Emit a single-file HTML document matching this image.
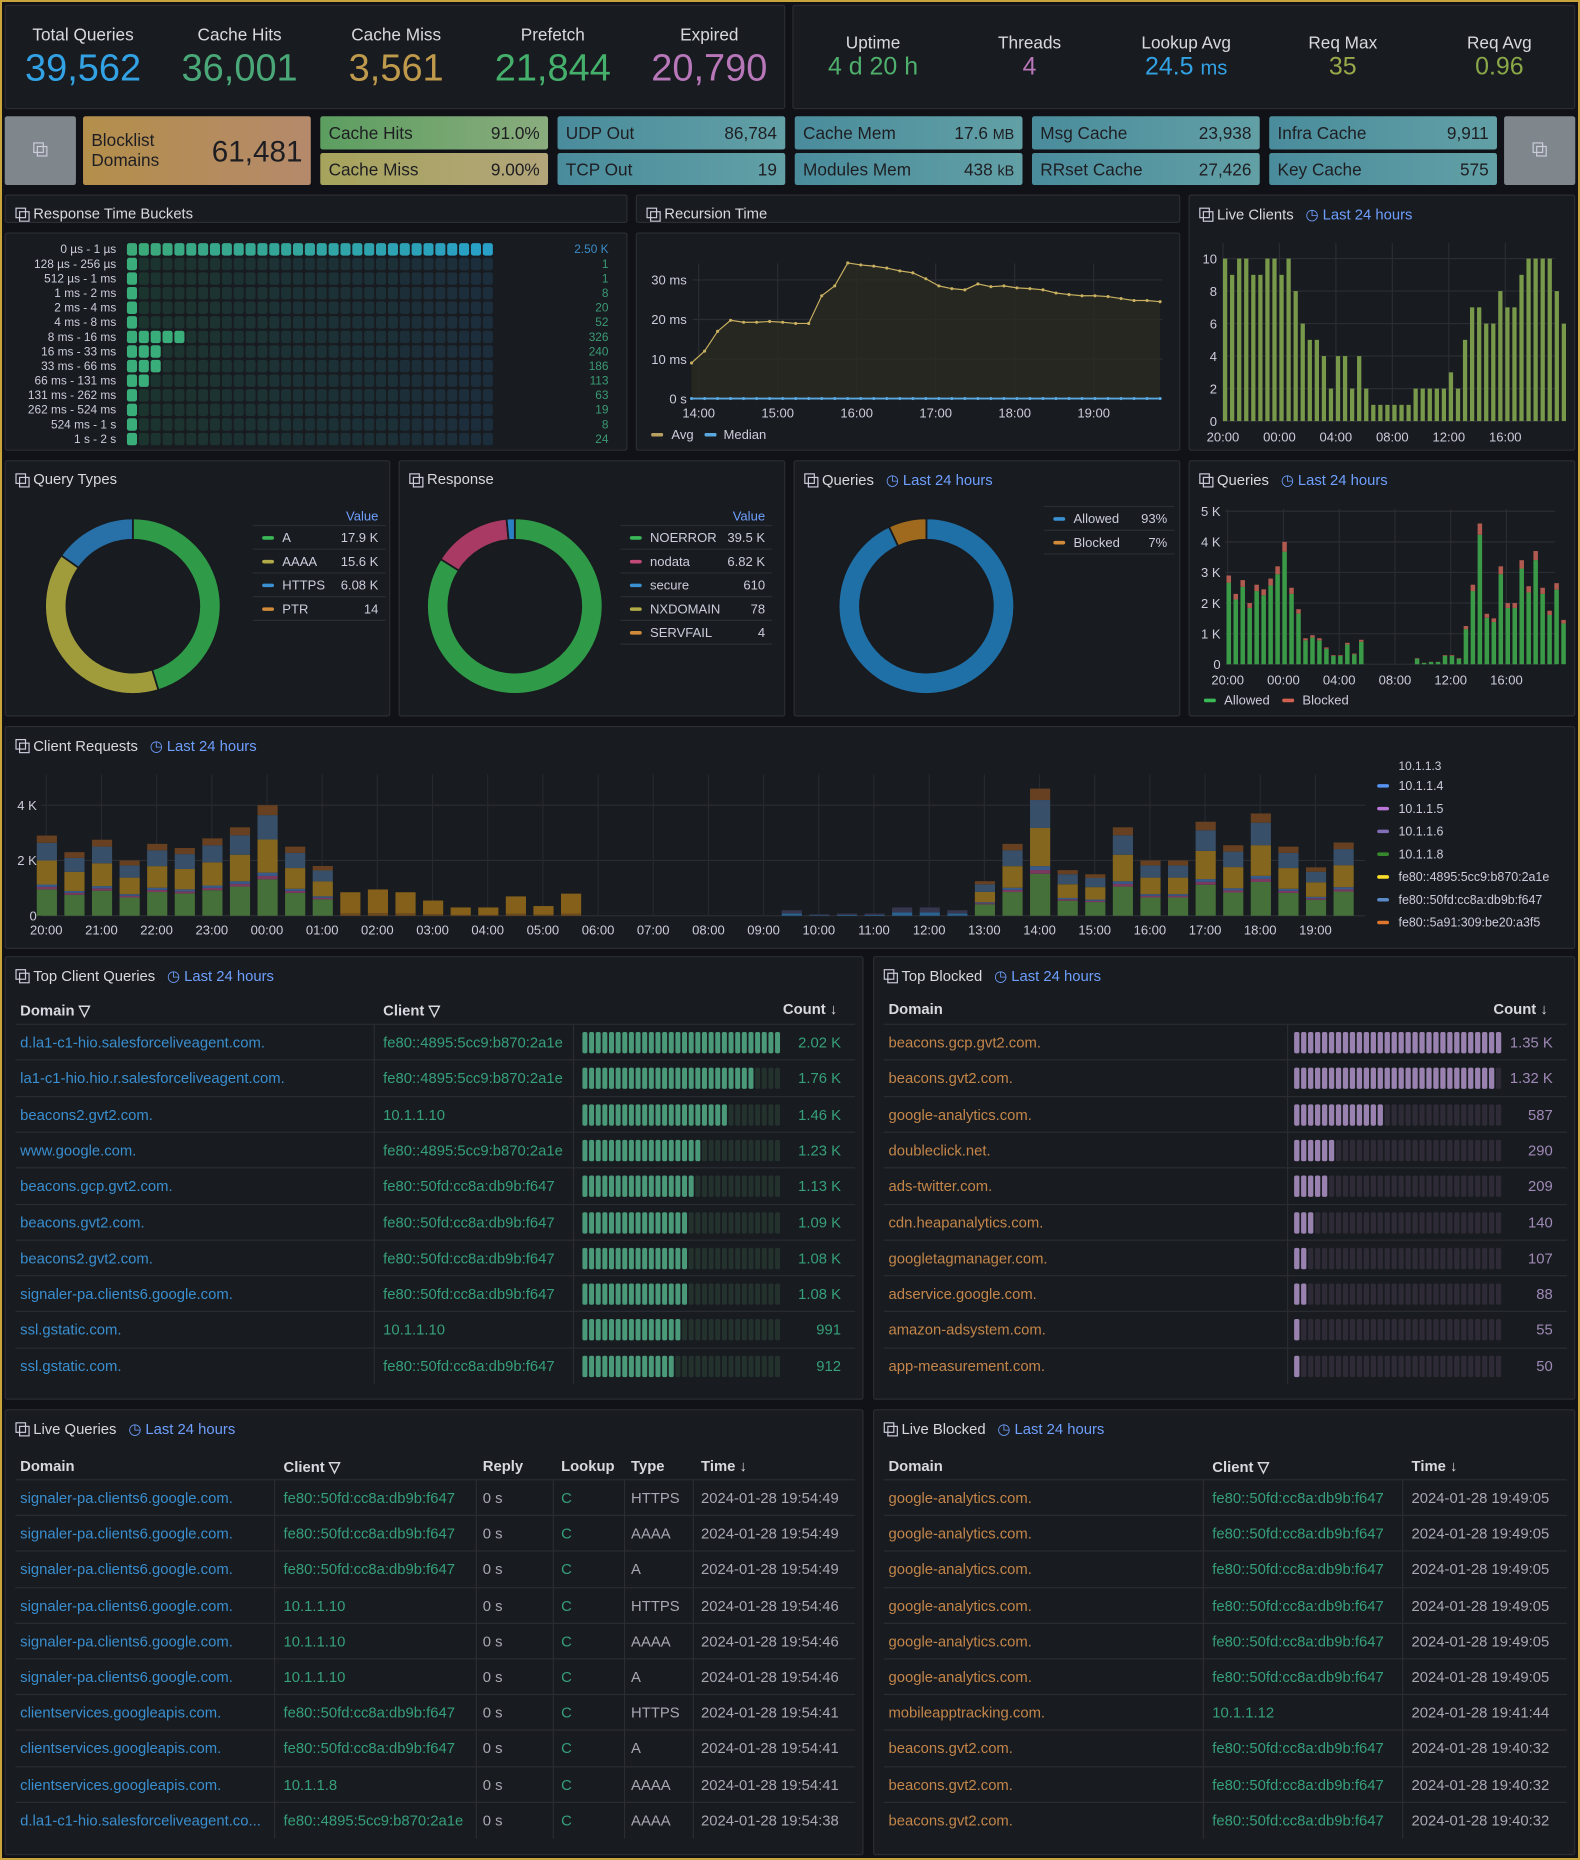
<!DOCTYPE html>
<html><head><meta charset="utf-8">
<style>
*{box-sizing:border-box;margin:0;padding:0}
html,body{width:1580px;height:1860px;overflow:hidden;background:#111217}
body{font-family:"Liberation Sans",sans-serif;color:#ccccdc}
#frame{position:absolute;left:0;top:0;width:1580px;height:1860px;border:2px solid #c9a43a;pointer-events:none;z-index:10}
#root{position:absolute;left:0;top:0;width:1332px;height:1568px;transform:scale(1.186186);transform-origin:0 0}
.p{position:absolute;background:#181b1f;border:1px solid #2a2d33;border-radius:2px;overflow:hidden}
.t{position:absolute;left:8px;top:8px;font-size:12.5px;color:#d8d9e0;white-space:nowrap;display:flex;align-items:center}
.t .ic{display:inline-block;width:11px;height:11px;position:relative;margin-right:4px}
.t .ic:before,.t .ic:after{content:"";position:absolute;width:7px;height:7px;border:1px solid #ccccdc}
.t .ic:before{left:0;top:0}.t .ic:after{left:3px;top:3px}
.t .tm{color:#6e9fff;margin-left:10px}
.a{position:absolute;white-space:nowrap}
svg{position:absolute;left:0;top:0;overflow:visible}
.stl{font-size:14.5px;color:#d8d9e0;text-align:center;width:130px}
.sv{text-align:center;width:130px}
.box{position:absolute;border-radius:2px;color:#1e1e22;font-size:14.5px}
.box .l{position:absolute;left:7px}
.box .r{position:absolute;right:7px}
.th{font-size:12.5px;color:#d8d9e0;font-weight:600}
.row{position:absolute;left:8px;height:30px;border-top:1px solid #2a2d33;font-size:12.5px}
.row div{position:absolute;top:8px;white-space:nowrap}
.vd{position:absolute;top:0;width:1px;height:30px;background:#2a2d33}
</style></head><body>
<div id="root"></div>
<div id="frame"></div>
<script>
const R=document.getElementById('root');let H='';
function panel(x,y,w,h,title,tm,inner){
  H+=`<div class="p" style="left:${x}px;top:${y}px;width:${w}px;height:${h}px">`+
  (title?`<div class="t"><span class="ic"></span>${title}${tm?'<span class="tm">&#9719; Last 24 hours</span>':''}</div>`:'')+(inner||'')+`</div>`;
}
let s='';
[['Total Queries','39,562','#33a2e5'],['Cache Hits','36,001','#4aa878'],['Cache Miss','3,561','#c09a4c'],['Prefetch','21,844','#44b06c'],['Expired','20,790','#b877b9']].forEach((d,i)=>{
 let cx=65+i*132;s+=`<div class="a stl" style="left:${cx-65}px;top:17px">${d[0]}</div><div class="a sv" style="left:${cx-65}px;top:34px;font-size:32px;color:${d[2]}">${d[1]}</div>`;});
panel(4,4,658,88,'',0,s);
s='';
[['Uptime','4 d 20 h','#4fb06e'],['Threads','4','#b877b9'],['Lookup Avg','24.5 <span style="font-size:17px">ms</span>','#33a2e5'],['Req Max','35','#98a84a'],['Req Avg','0.96','#8aa848']].forEach((d,i)=>{
 let cx=67+i*132;s+=`<div class="a stl" style="left:${cx-65}px;top:24px">${d[0]}</div><div class="a sv" style="left:${cx-65}px;top:40px;font-size:21px;color:${d[2]}">${d[1]}</div>`;});
panel(668,4,660,88,'',0,s);
function box(x,y,w,h,g,l,r){H+=`<div class="box" style="left:${x}px;top:${y}px;width:${w}px;height:${h}px;background:${g}"><div class="l" style="top:${h/2-7}px">${l}</div><div class="r" style="top:${h/2-7}px">${r}</div></div>`;}
H+=`<div class="box" style="left:4px;top:98px;width:60px;height:58px;background:#7f868c"><div class="t" style="left:24px;top:22px"><span class="ic"></span></div></div>`;
H+=`<div class="box" style="left:1268px;top:98px;width:60px;height:58px;background:#7f868c"><div class="t" style="left:24px;top:22px"><span class="ic"></span></div></div>`;
H+=`<div class="box" style="left:70px;top:98px;width:192px;height:58px;background:linear-gradient(90deg,#b48e4a,#b58a6c)"><div class="l" style="top:13px;line-height:17px">Blocklist<br>Domains</div><div class="r" style="top:16px;font-size:25px">61,481</div></div>`;
const gHit='linear-gradient(90deg,#5c9e60,#8aac7e)',gMiss='linear-gradient(90deg,#a6a45c,#b2a57a)',gT='linear-gradient(90deg,#4a8c9c,#62a0a6)';
box(270,98,192,28,gHit,'Cache Hits','91.0%');box(270,129,192,27,gMiss,'Cache Miss','9.00%');
box(470,98,192,28,gT,'UDP Out','86,784');box(470,129,192,27,gT,'TCP Out','19');
box(670,98,192,28,gT,'Cache Mem','17.6 <small>MB</small>');box(670,129,192,27,gT,'Modules Mem','438 <small>kB</small>');
box(870,98,192,28,gT,'Msg Cache','23,938');box(870,129,192,27,gT,'RRset Cache','27,426');
box(1070,98,192,28,gT,'Infra Cache','9,911');box(1070,129,192,27,gT,'Key Cache','575');
panel(4,164,525,24,'Response Time Buckets');
s='<svg width="525" height="186">';
const hl=['0 µs - 1 µs','128 µs - 256 µs','512 µs - 1 ms','1 ms - 2 ms','2 ms - 4 ms','4 ms - 8 ms','8 ms - 16 ms','16 ms - 33 ms','33 ms - 66 ms','66 ms - 131 ms','131 ms - 262 ms','262 ms - 524 ms','524 ms - 1 s','1 s - 2 s'];
const hv=['2.50 K','1','1','8','20','52','326','240','186','113','63','19','8','24'];
const hf=[31,1,1,1,1,1,5,3,3,2,1,1,1,1];
hl.forEach((l,r)=>{let y=8+r*12.3;s+=`<text x="93" y="${y+8.5}" font-size="10" fill="#ccccdc" text-anchor="end">${l}</text><text x="508" y="${y+8.5}" font-size="10" fill="${r?'#3a9a74':'#3a8cc8'}" text-anchor="end">${hv[r]}</text>`;
 for(let c=0;c<31;c++){let x=102+c*10;let t=c/30;let fill;
  if(c<hf[r]){fill=r==0?`rgb(${Math.round(60-20*t)},${Math.round(170-10*t)},${Math.round(120+80*t)})`:'#3aae7a';}
  else fill=`rgb(28,${Math.round(52-6*t)},${Math.round(46+14*t)})`;
  s+=`<rect x="${x}" y="${y}" width="8.5" height="10.5" rx="2" fill="${fill}"/>`;}});
s+='</svg>';
panel(4,196,525,184,'',0,s);
panel(536,164,459,24,'Recursion Time');
{let sv='<svg width="459" height="184">';const ox=-536,oy=-196;
 const y0=335,k=3.333;[[0,'0 s'],[10,'10 ms'],[20,'20 ms'],[30,'30 ms']].forEach(d=>{let y=y0-d[0]*k+oy;sv+=`<line x1="47" x2="443" y1="${y}" y2="${y}" stroke="#2a2d33"/><text x="42" y="${y+4}" font-size="11" fill="#ccccdc" text-anchor="end">${d[1]}</text>`;});
 for(let h=0;h<6;h++){let x=588+h*66.6+ox;sv+=`<line x1="${x}" x2="${x}" y1="25" y2="${y0+oy}" stroke="#2a2d33"/><text x="${x}" y="${y0+oy+16}" font-size="11" fill="#ccccdc" text-anchor="middle">${14+h}:00</text>`;}
 const v=[9,12,17,19.8,19.3,19.3,19.5,19.3,19,19,26,28.5,34.3,33.8,33.5,33,32.3,31.8,30.3,28.5,27.8,27.5,29,28.3,28.5,28,27.8,27.5,26.7,26.3,26,26,25.8,25.3,24.8,24.8,24.5];
 let pts=v.map((d,i)=>[582+ox+i*(395/36),y0+oy-d*k]);
 sv+=`<path d="M${pts[0][0]},${y0+oy} L${pts.map(p=>p.join(',')).join(' L')} L${pts[pts.length-1][0]},${y0+oy}Z" fill="#2a2a22" opacity="0.8"/>`;
 sv+=`<polyline points="${pts.map(p=>p.join(',')).join(' ')}" fill="none" stroke="#c8b060" stroke-width="1"/>`;
 pts.forEach(p=>{sv+=`<circle cx="${p[0]}" cy="${p[1]}" r="1.3" fill="#c8b060"/><circle cx="${p[0]}" cy="${y0+oy}" r="1.3" fill="#5aa8e0"/>`;});
 sv+=`<line x1="${pts[0][0]}" x2="${pts[36][0]}" y1="${y0+oy}" y2="${y0+oy}" stroke="#5aa8e0" stroke-width="1.5"/>`;
 sv+=`<rect x="12" y="168" width="10" height="3" rx="1" fill="#b8a060"/><text x="29" y="173" font-size="11" fill="#ccccdc">Avg</text><rect x="57" y="168" width="10" height="3" rx="1" fill="#5aa8e0"/><text x="73" y="173" font-size="11" fill="#ccccdc">Median</text></svg>`;
 panel(536,196,459,184,'',0,sv);}
{let sv='<svg width="326" height="216">';const ox=-1002,oy=-164,y0=354,k=13.7;
 for(let i=0;i<=10;i+=2){let y=y0-i*k+oy;sv+=`<line x1="28" x2="308" y1="${y}" y2="${y}" stroke="#2a2d33"/><text x="23" y="${y+4}" font-size="11" fill="#ccccdc" text-anchor="end">${i}</text>`;}
 for(let h=0;h<6;h++){let x=1030+h*47.6+ox;sv+=`<line x1="${x}" x2="${x}" y1="40" y2="${y0+oy}" stroke="#2a2d33"/><text x="${x}" y="${y0+oy+17}" font-size="11" fill="#ccccdc" text-anchor="middle">${['20:00','00:00','04:00','08:00','12:00','16:00'][h]}</text>`;}
 const v=[10,9,10,10,9,9,10,10,9,10,8,6,5,5,4,2,4,4,2,4,2,1,1,1,1,1,1,2,2,2,2,2,3,2,5,7,7,6,6,8,7,7,9,10,10,10,10,8,6];
 v.forEach((d,i)=>{let x=1030+ox+i*5.95;sv+=`<rect x="${x}" y="${y0+oy-d*k}" width="3.6" height="${d*k}" fill="#78984a"/>`;});
 sv+='</svg>';panel(1002,164,326,216,'Live Clients',1,sv);}
function arc(cx,cy,ro,ri,a0,a1,col){const P=(r,a)=>[cx+r*Math.sin(a),cy-r*Math.cos(a)];let A=a0*2*Math.PI,B=a1*2*Math.PI,lg=(B-A)>Math.PI?1:0;
 let p1=P(ro,A),p2=P(ro,B),p3=P(ri,B),p4=P(ri,A);
 return `<path d="M${p1} A${ro},${ro} 0 ${lg} 1 ${p2} L${p3} A${ri},${ri} 0 ${lg} 0 ${p4}Z" fill="${col}" stroke="#181b1f" stroke-width="1.5"/>`;}
function donut(cx,cy,seg){let a=0,o='';seg.forEach(g=>{o+=arc(cx,cy,74,56,a,a+g[0],g[1]);a+=g[0];});return o;}
function legend(x,y,w,rows,hdr){let o='';if(hdr)o+=`<text x="${x+w-6}" y="${y-4}" font-size="11" fill="#6e9fff" text-anchor="end">Value</text>`;
 o+=`<line x1="${x}" x2="${x+w}" y1="${y}" y2="${y}" stroke="#2a2d33"/>`;
 rows.forEach((r,i)=>{let yy=y+i*20;o+=`<rect x="${x+8}" y="${yy+9}" width="10" height="3" rx="1.5" fill="${r[2]}"/><text x="${x+25}" y="${yy+14}" font-size="11" fill="#ccccdc">${r[0]}</text><text x="${x+w-6}" y="${yy+14}" font-size="11" fill="#ccccdc" text-anchor="end">${r[1]}</text><line x1="${x}" x2="${x+w}" y1="${yy+20}" y2="${yy+20}" stroke="#2a2d33"/>`;});return o;}
panel(4,388,325,216,'Query Types',0,`<svg width="325" height="216">${donut(107,122,[[0.453,'#2f9a48'],[0.395,'#a09c3c'],[0.152,'#2870a8']])}${legend(208,54,112,[['A','17.9 K','#3ab858'],['AAAA','15.6 K','#b0aa48'],['HTTPS','6.08 K','#3a90d0'],['PTR','14','#d08a3a']],1)}</svg>`);
panel(336,388,326,216,'Response',0,`<svg width="326" height="216">${donut(97,122,[[0.84,'#2f9a48'],[0.145,'#a83a64'],[0.015,'#2a80c0']])}${legend(186,54,128,[['NOERROR','39.5 K','#3ab858'],['nodata','6.82 K','#c04a78'],['secure','610','#3a90d0'],['NXDOMAIN','78','#b0aa48'],['SERVFAIL','4','#d08a3a']],1)}</svg>`);
panel(669,388,326,216,'Queries',1,`<svg width="326" height="216">${donut(111,122,[[0.93,'#2070a8'],[0.07,'#a06a1e']])}${legend(210,38,110,[['Allowed','93%','#3a90d0'],['Blocked','7%','#d08a3a']],0)}</svg>`);
const CR=[2.9,2.3,2.75,2.0,2.6,2.45,2.8,3.2,4.0,2.5,1.8,.85,.95,.85,.55,.3,.3,.7,.35,.8,0,0,0,0,0,0,0,.2,.05,.08,.08,.3,.3,.2,1.25,2.6,4.6,1.65,1.5,3.2,2.0,2.0,3.4,2.55,3.7,2.5,1.75,2.65,1.45];
{let sv='<svg width="326" height="216">';const ox=-1002,oy=-388,y0=559,k=25.8;
 for(let i=0;i<=5;i++){let y=y0-i*k+oy;sv+=`<line x1="30" x2="308" y1="${y}" y2="${y}" stroke="#2a2d33"/><text x="26" y="${y+4}" font-size="11" fill="#ccccdc" text-anchor="end">${i?i+' K':'0'}</text>`;}
 for(let h=0;h<6;h++){let x=1034+h*47+ox;sv+=`<line x1="${x}" x2="${x}" y1="40" y2="${y0+oy}" stroke="#2a2d33"/><text x="${x}" y="${y0+oy+17}" font-size="11" fill="#ccccdc" text-anchor="middle">${['20:00','00:00','04:00','08:00','12:00','16:00'][h]}</text>`;}
 CR.forEach((d,i)=>{let x=1034+ox+i*5.88-1;let b=d*0.08*k,a=d*0.92*k;sv+=`<rect x="${x}" y="${y0+oy-a}" width="3.8" height="${a}" fill="#3a9a48"/><rect x="${x}" y="${y0+oy-a-b}" width="3.8" height="${b}" fill="#b05a50"/>`;});
 sv+=`<rect x="12" y="200" width="10" height="3" rx="1" fill="#3ab858"/><text x="29" y="205" font-size="11" fill="#ccccdc">Allowed</text><rect x="78" y="200" width="10" height="3" rx="1" fill="#d06050"/><text x="95" y="205" font-size="11" fill="#ccccdc">Blocked</text></svg>`;
 panel(1002,388,326,216,'Queries',1,sv);}
{let sv='<svg width="1324" height="188">';const ox=-4,oy=-612,y0=771,k=23.3;
 [0,2,4].forEach(i=>{let y=y0-i*k+oy;sv+=`<line x1="30" x2="1146" y1="${y}" y2="${y}" stroke="#2a2d33"/><text x="26" y="${y+4}" font-size="11" fill="#ccccdc" text-anchor="end">${i?i+' K':'0'}</text>`;});
 for(let h=0;h<24;h++){let x=38+h*46.52+ox;let lab=String((20+h)%24).padStart(2,'0')+':00';sv+=`<line x1="${x}" x2="${x}" y1="40" y2="${y0+oy}" stroke="#262930"/><text x="${x}" y="${y0+oy+16}" font-size="11" fill="#ccccdc" text-anchor="middle">${lab}</text>`;}
 CR.forEach((d,i)=>{let x=38+ox+i*23.26-8;if(x>1140)return;let seg;
  if(i>=11&&i<=19)seg=[[0.1,'#6e4a1e'],[0.9,'#84601a']];
  else if(i>=27&&i<=33)seg=[[0.4,'#2a6290'],[0.6,'#36364f']];
  else seg=[[0.33,'#46703a'],[0.03,'#7a3a60'],[0.03,'#3a5a8a'],[0.3,'#84661e'],[0.22,'#384f6a'],[0.09,'#664020']];
  let y=y0+oy;seg.forEach(g=>{let hh=d*k*g[0];y-=hh;sv+=`<rect x="${x}" y="${y}" width="17" height="${hh}" fill="${g[1]}"/>`;});});
 sv+=`<text x="1174" y="36" font-size="10" fill="#ccccdc">10.1.1.3</text>`;
 [['10.1.1.4','#5794f2'],['10.1.1.5','#b877d9'],['10.1.1.6','#806eb7'],['10.1.1.8','#37872d'],['fe80::4895:5cc9:b870:2a1e','#fade2a'],['fe80::50fd:cc8a:db9b:f647','#5a8ac8'],['fe80::5a91:309:be20:a3f5','#e0752d']].forEach((l,i)=>{let y=51+i*19.2;sv+=`<rect x="1156" y="${y-3}" width="10" height="3" rx="1.5" fill="${l[1]}"/><text x="1174" y="${y+2}" font-size="10.5" fill="#ccccdc">${l[0]}</text>`;});
 sv+='</svg>';panel(4,612,1324,188,'Client Requests',1,sv);}
function gauge(x,w,f,on,off){let o=`<svg style="left:${x}px;top:6px" width="${w}" height="18">`;const n=30,p=w/n;for(let i=0;i<n;i++){o+=`<rect x="${i*p}" y="0" width="${p-1.4}" height="18" rx="1.5" fill="${(i+0.5)/n<f?on:off}"/>`;}return o+'</svg>';}
{const d=[['d.la1-c1-hio.salesforceliveagent.com.','fe80::4895:5cc9:b870:2a1e','2.02 K',2020],['la1-c1-hio.hio.r.salesforceliveagent.com.','fe80::4895:5cc9:b870:2a1e','1.76 K',1760],['beacons2.gvt2.com.','10.1.1.10','1.46 K',1460],['www.google.com.','fe80::4895:5cc9:b870:2a1e','1.23 K',1230],['beacons.gcp.gvt2.com.','fe80::50fd:cc8a:db9b:f647','1.13 K',1130],['beacons.gvt2.com.','fe80::50fd:cc8a:db9b:f647','1.09 K',1090],['beacons2.gvt2.com.','fe80::50fd:cc8a:db9b:f647','1.08 K',1080],['signaler-pa.clients6.google.com.','fe80::50fd:cc8a:db9b:f647','1.08 K',1080],['ssl.gstatic.com.','10.1.1.10','991',991],['ssl.gstatic.com.','fe80::50fd:cc8a:db9b:f647','912',912]];
 let s=`<div class="a th" style="left:12px;top:37px">Domain &#9661;</div><div class="a th" style="left:318px;top:37px">Client &#9661;</div><div class="a th" style="left:655px;top:37px">Count &#8595;</div>`;
 d.forEach((r,i)=>{s+=`<div class="row" style="top:${56+i*30.3}px;width:708px"><div style="left:4px;color:#3a8fd0">${r[0]}</div><span class="vd" style="left:302px"></span><div style="left:310px;color:#36a07a">${r[1]}</div><span class="vd" style="left:470px"></span>${gauge(478,168,r[3]/2020,'#4a9a7a','#24322e')}<div style="right:12px;color:#36a07a">${r[2]}</div></div>`;});
 panel(4,806,724,374,'Top Client Queries',1,s);}
{const d=[['beacons.gcp.gvt2.com.','1.35 K',1350],['beacons.gvt2.com.','1.32 K',1320],['google-analytics.com.','587',587],['doubleclick.net.','290',290],['ads-twitter.com.','209',209],['cdn.heapanalytics.com.','140',140],['googletagmanager.com.','107',107],['adservice.google.com.','88',88],['amazon-adsystem.com.','55',55],['app-measurement.com.','50',50]];
 let s=`<div class="a th" style="left:12px;top:37px">Domain</div><div class="a th" style="left:522px;top:37px">Count &#8595;</div>`;
 d.forEach((r,i)=>{s+=`<div class="row" style="top:${56+i*30.3}px;width:576px"><div style="left:4px;color:#c4864a">${r[0]}</div><span class="vd" style="left:340px"></span>${gauge(346,176,Math.max(r[2]/1350,0.02),'#9a82b0','#2e2a36')}<div style="right:12px;color:#a08ab8">${r[1]}</div></div>`;});
 panel(736,806,592,374,'Top Blocked',1,s);}
{const A='signaler-pa.clients6.google.com.',C='clientservices.googleapis.com.',F='fe80::50fd:cc8a:db9b:f647';
 const d=[[A,F,'HTTPS','2024-01-28 19:54:49'],[A,F,'AAAA','2024-01-28 19:54:49'],[A,F,'A','2024-01-28 19:54:49'],[A,'10.1.1.10','HTTPS','2024-01-28 19:54:46'],[A,'10.1.1.10','AAAA','2024-01-28 19:54:46'],[A,'10.1.1.10','A','2024-01-28 19:54:46'],[C,F,'HTTPS','2024-01-28 19:54:41'],[C,F,'A','2024-01-28 19:54:41'],[C,'10.1.1.8','AAAA','2024-01-28 19:54:41'],['d.la1-c1-hio.salesforceliveagent.co...','fe80::4895:5cc9:b870:2a1e','AAAA','2024-01-28 19:54:38']];
 let s=`<div class="a th" style="left:12px;top:40px">Domain</div><div class="a th" style="left:234px;top:40px">Client &#9661;</div><div class="a th" style="left:402px;top:40px">Reply</div><div class="a th" style="left:468px;top:40px">Lookup</div><div class="a th" style="left:527px;top:40px">Type</div><div class="a th" style="left:586px;top:40px">Time &#8595;</div>`;
 d.forEach((r,i)=>{s+=`<div class="row" style="top:${58+i*30.2}px;width:708px"><div style="left:4px;color:#3a8fd0">${r[0]}</div><span class="vd" style="left:218px"></span><div style="left:226px;color:#36a07a">${r[1]}</div><span class="vd" style="left:388px"></span><div style="left:394px;color:#a8a8b4">0 s</div><span class="vd" style="left:453px"></span><div style="left:460px;color:#36a07a">C</div><span class="vd" style="left:513px"></span><div style="left:519px;color:#a8a8b4">${r[2]}</div><span class="vd" style="left:571px"></span><div style="left:578px;color:#a8a8b4">${r[3]}</div></div>`;});
 panel(4,1188,724,376,'Live Queries',1,s);}
{const G='google-analytics.com.',F='fe80::50fd:cc8a:db9b:f647',T='2024-01-28 19:49:05';
 const d=[[G,F,T],[G,F,T],[G,F,T],[G,F,T],[G,F,T],[G,F,T],['mobileapptracking.com.','10.1.1.12','2024-01-28 19:41:44'],['beacons.gvt2.com.',F,'2024-01-28 19:40:32'],['beacons.gvt2.com.',F,'2024-01-28 19:40:32'],['beacons.gvt2.com.',F,'2024-01-28 19:40:32']];
 let s=`<div class="a th" style="left:12px;top:40px">Domain</div><div class="a th" style="left:285px;top:40px">Client &#9661;</div><div class="a th" style="left:453px;top:40px">Time &#8595;</div>`;
 d.forEach((r,i)=>{s+=`<div class="row" style="top:${58+i*30.2}px;width:576px"><div style="left:4px;color:#c4864a">${r[0]}</div><span class="vd" style="left:269px"></span><div style="left:277px;color:#36a07a">${r[1]}</div><span class="vd" style="left:437px"></span><div style="left:445px;color:#a8a8b4">${r[2]}</div></div>`;});
 panel(736,1188,592,376,'Live Blocked',1,s);}
R.innerHTML=H;
</script>
</body></html>
